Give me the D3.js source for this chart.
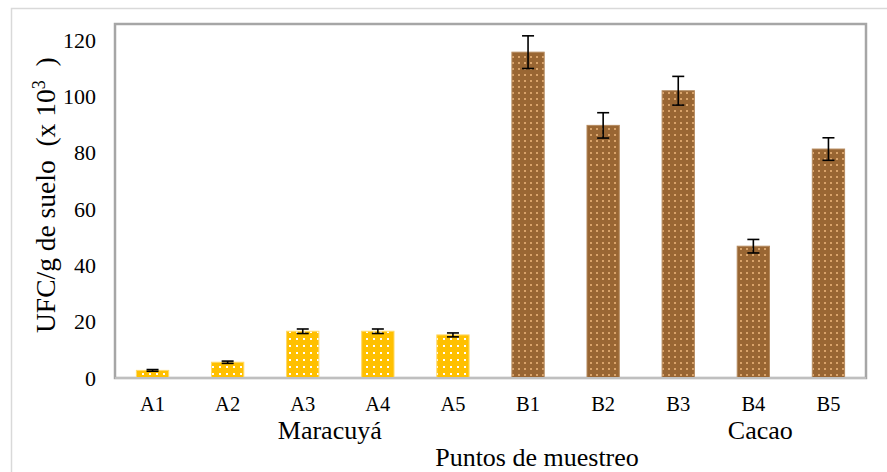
<!DOCTYPE html>
<html>
<head>
<meta charset="utf-8">
<script src="https://cdn.jsdelivr.net/npm/d3@7"></script>
<style>
  body { margin: 0; background: #fff; }
  text { font-family: "Liberation Serif", "Times New Roman", serif; fill: #000; white-space: pre; }
</style>
</head>
<body>
<svg id="chart" width="887" height="472"></svg>
<script>
// data
var samples = ["A1", "A2", "A3", "A4", "A5", "B1", "B2", "B3", "B4", "B5"];
var counts  = [2.7, 5.6, 16.6, 16.6, 15.3, 115.7, 89.7, 102.0, 46.8, 81.3];
var errors  = [0.3, 0.4, 0.8, 0.8, 0.7, 5.8, 4.5, 5.1, 2.4, 4.0];
var crops   = ["Maracuyá", "Maracuyá", "Maracuyá", "Maracuyá", "Maracuyá",
               "Cacao", "Cacao", "Cacao", "Cacao", "Cacao"];
var yTicks  = [0, 20, 40, 60, 80, 100, 120];
// group label anchors (which sample each crop name sits near, and nudge)
var groupNames  = ["Maracuyá", "Cacao"];
var groupAnchor = ["A3", "B4"];
var groupNudge  = [27, 7];

var plotL = 115, plotR = 866, plotT = 24, plotB = 378;

var svg = d3.select("#chart");

// dotted fills
var defs = svg.append("defs");
function dots(id, bg, dot, step) {
  var p = defs.append("pattern")
    .attr("id", id)
    .attr("patternUnits", "userSpaceOnUse")
    .attr("width", step).attr("height", step);
  p.append("rect").attr("width", step).attr("height", step).attr("fill", bg);
  p.append("rect").attr("x", 2).attr("y", 2).attr("width", 2).attr("height", 2).attr("fill", dot);
}
dots("dotYellow", "#ffc000", "#ffffff", 7);
dots("dotBrown", "#996633", "#d9a36a", 6);

var fillOf = d3.scaleOrdinal().domain(groupNames).range(["url(#dotYellow)", "url(#dotBrown)"]);
var edgeOf = d3.scaleOrdinal().domain(groupNames).range(["#ffd966", "#b58a5e"]);

// outer frame
svg.append("rect")
  .attr("x", 11.5).attr("y", 8.5)
  .attr("width", 1000).attr("height", 600)
  .attr("fill", "none").attr("stroke", "#d9d9d9").attr("stroke-width", 1.5);

var x = d3.scaleBand()
  .domain(samples)
  .range([plotL, plotR])
  .paddingInner(0.57)
  .paddingOuter(0.285);

var y = d3.scaleLinear()
  .domain([0, 125.7])
  .range([plotB, plotT]);

// plot area border
svg.append("rect")
  .attr("x", plotL).attr("y", plotT)
  .attr("width", plotR - plotL).attr("height", plotB - plotT)
  .attr("fill", "none").attr("stroke", "#a6a6a6").attr("stroke-width", 2.5);

var rows = samples.map(function(s, i) {
  return { name: s, value: counts[i], err: errors[i], crop: crops[i] };
});

// bars
svg.selectAll("rect.bar")
  .data(rows)
  .enter()
  .append("rect")
  .attr("class", "bar")
  .attr("x", d => x(d.name))
  .attr("y", d => y(d.value))
  .attr("width", x.bandwidth())
  .attr("height", d => y(0) - y(d.value))
  .attr("fill", d => fillOf(d.crop))
  .attr("stroke", d => edgeOf(d.crop))
  .attr("stroke-width", 1);

// x axis line
svg.append("line")
  .attr("x1", plotL).attr("x2", plotR)
  .attr("y1", y(0)).attr("y2", y(0))
  .attr("stroke", "#bfbfbf").attr("stroke-width", 2);

// error bars
var eb = svg.selectAll("g.err")
  .data(rows)
  .enter()
  .append("g")
  .attr("class", "err")
  .attr("transform", d => "translate(" + (x(d.name) + x.bandwidth() / 2) + ",0)")
  .attr("stroke", "#000").attr("stroke-width", 1.6);
eb.append("line")
  .attr("y1", d => y(d.value + d.err)).attr("y2", d => y(d.value - d.err));
eb.append("line")
  .attr("x1", -6).attr("x2", 6)
  .attr("y1", d => y(d.value + d.err)).attr("y2", d => y(d.value + d.err));
eb.append("line")
  .attr("x1", -6).attr("x2", 6)
  .attr("y1", d => y(d.value - d.err)).attr("y2", d => y(d.value - d.err));

// y axis ticks
var yAxis = d3.axisLeft(y).tickValues(yTicks).tickSize(0).tickPadding(0);
var gy = svg.append("g")
  .attr("transform", "translate(96,0)")
  .call(yAxis);
gy.select(".domain").remove();
gy.selectAll("text")
  .attr("font-family", "Liberation Serif")
  .attr("font-size", 22)
  .attr("fill", "#000");

// x axis labels
var xAxis = d3.axisBottom(x).tickSize(0).tickPadding(0);
var gx = svg.append("g")
  .attr("transform", "translate(0,411)")
  .call(xAxis);
gx.select(".domain").remove();
gx.selectAll("text")
  .attr("y", 0).attr("dy", 0)
  .attr("font-family", "Liberation Serif")
  .attr("font-size", 20.5)
  .attr("fill", "#000");

// crop group labels
svg.selectAll("text.grp")
  .data(groupNames)
  .enter()
  .append("text")
  .attr("class", "grp")
  .attr("x", (g, i) => x(groupAnchor[i]) + x.bandwidth() / 2 + groupNudge[i])
  .attr("y", 439)
  .attr("text-anchor", "middle")
  .attr("font-size", 26)
  .text(g => g);

// axis titles
svg.append("text")
  .attr("x", 537)
  .attr("y", 466)
  .attr("text-anchor", "middle")
  .attr("font-size", 26)
  .text("Puntos de muestreo");

var yt = svg.append("text")
  .attr("transform", "translate(55,333) rotate(-90)")
  .attr("text-anchor", "start")
  .attr("font-size", 27.5);
yt.append("tspan").text("UFC/g de suelo  (x 10");
yt.append("tspan").attr("baseline-shift", "super").attr("font-size", 18).text("3");
yt.append("tspan").text("  )");
</script>
</body>
</html>
